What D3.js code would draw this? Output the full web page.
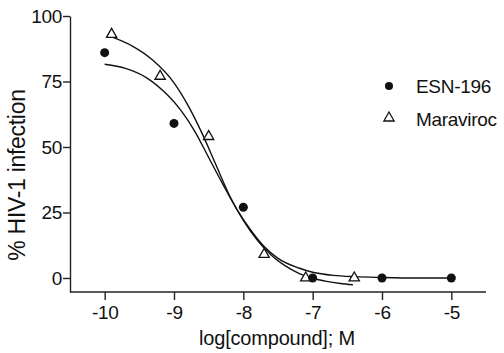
<!DOCTYPE html>
<html>
<head>
<meta charset="utf-8">
<script src="https://cdn.jsdelivr.net/npm/d3@7"></script>
<style>
  body { margin: 0; background: #fff; }
  text { font-family: "Liberation Sans", Arial, Helvetica, sans-serif; fill: #111; }
</style>
</head>
<body>
<div id="chart"></div>
<script>
// measured points
const esnX = [-10, -9, -8, -7, -6, -5];
const esnY = [86, 59, 27, 0, 0, 0];
const maravirocX = [-9.9, -9.2, -8.5, -7.7, -7.1, -6.4];
const maravirocY = [93, 77, 54, 9, 0, 0];

// fitted curves
const esnFitX = [-10, -9.7, -9.4, -9.1, -8.9, -8.7, -8.5, -8.3, -8.1, -7.9, -7.7, -7.5, -7.2, -7, -6.7, -6.4, -6, -5.5, -5];
const esnFitY = [81.6, 80, 76.5, 70, 64, 56, 46, 36, 26.5, 18.5, 12, 7.5, 3.8, 2.2, 1, 0.5, 0.2, 0, 0];
const maravirocFitX = [-9.9, -9.6, -9.3, -9, -8.8, -8.6, -8.4, -8.2, -8, -7.8, -7.6, -7.4, -7.2, -7, -6.8, -6.6, -6.42];
const maravirocFitY = [92, 88.5, 83, 74.5, 66, 55.5, 43.5, 31.5, 22, 14.5, 8.8, 4.7, 1.8, -0.1, -1.3, -2.1, -2.6];

const xTicks = [-10, -9, -8, -7, -6, -5];
const yTicks = [0, 25, 50, 75, 100];
const seriesNames = ["ESN-196", "Maraviroc"];

const width = 504, height = 353;

const svg = d3.select("#chart").append("svg")
  .attr("width", width)
  .attr("height", height);

const x = d3.scaleLinear().domain([-10.5, -4.5]).range([70, 486]);
const y = d3.scaleLinear().domain([-5.35, 100]).range([292, 16]);

// axes
const xAxis = svg.append("g")
  .attr("transform", `translate(0,${y(-5.35)})`)
  .call(d3.axisBottom(x).tickValues(xTicks).tickSize(8).tickSizeOuter(0)
    .tickFormat(function (d) { return String(d); }));
const yAxis = svg.append("g")
  .attr("transform", `translate(${x(-10.5)},0)`)
  .call(d3.axisLeft(y).tickValues(yTicks).tickSize(7).tickSizeOuter(0).tickPadding(1));

[xAxis, yAxis].forEach(function (g) {
  g.selectAll("path, line").attr("stroke", "#222").attr("stroke-width", 1.4);
  g.selectAll("text").style("font-size", "19px").style("letter-spacing", "-0.3px").attr("fill", "#111");
});
xAxis.selectAll("text").attr("y", 27).attr("dy", 0);
xAxis.select(".domain").attr("d", `M${x(-10.5)},0H${x(-4.5)}`);
yAxis.selectAll("text").attr("dy", "0.34em");

// curves
const line = d3.line()
  .x(function (d) { return x(d[0]); })
  .y(function (d) { return y(d[1]); })
  .curve(d3.curveMonotoneX);

svg.append("path")
  .datum(esnFitX.map(function (v, i) { return [v, esnFitY[i]]; }))
  .attr("d", line)
  .attr("fill", "none")
  .attr("stroke", "#111")
  .attr("stroke-width", 1.4);

svg.append("path")
  .datum(maravirocFitX.map(function (v, i) { return [v, maravirocFitY[i]]; }))
  .attr("d", line)
  .attr("fill", "none")
  .attr("stroke", "#111")
  .attr("stroke-width", 1.4);

// points
const tri = d3.symbol().type(d3.symbolTriangle).size(46);

svg.selectAll(".tri")
  .data(maravirocX.map(function (v, i) { return [v, maravirocY[i]]; }))
  .enter().append("path")
  .attr("class", "tri")
  .attr("d", tri)
  .attr("transform", function (d) { return `translate(${x(d[0])},${y(d[1])})`; })
  .attr("fill", "#fff")
  .attr("stroke", "#111")
  .attr("stroke-width", 1.3);

svg.selectAll(".dot")
  .data(esnX.map(function (v, i) { return [v, esnY[i]]; }))
  .enter().append("circle")
  .attr("class", "dot")
  .attr("cx", function (d) { return x(d[0]); })
  .attr("cy", function (d) { return y(d[1]); })
  .attr("r", 4.5)
  .attr("fill", "#111");

// legend
const legend = svg.append("g").attr("transform", "translate(389,86)");
legend.append("circle").attr("r", 4).attr("fill", "#111");
legend.append("path").attr("d", tri).attr("transform", "translate(0,32)")
  .attr("fill", "#fff").attr("stroke", "#111").attr("stroke-width", 1.3);
legend.selectAll("text")
  .data(seriesNames)
  .enter().append("text")
  .attr("x", 27)
  .attr("y", function (d, i) { return 7 + i * 33; })
  .style("font-size", "19px")
  .style("letter-spacing", "-0.3px")
  .text(function (d) { return d; });

// axis titles
svg.append("text")
  .attr("x", 277)
  .attr("y", 345)
  .attr("text-anchor", "middle")
  .style("font-size", "20px")
  .style("letter-spacing", "-0.2px")
  .text("log[compound]; M");

svg.append("text")
  .attr("transform", "translate(25,175) rotate(-90)")
  .attr("text-anchor", "middle")
  .style("font-size", "23px")
  .style("letter-spacing", "-0.3px")
  .text("% HIV-1 infection");
</script>
</body>
</html>
